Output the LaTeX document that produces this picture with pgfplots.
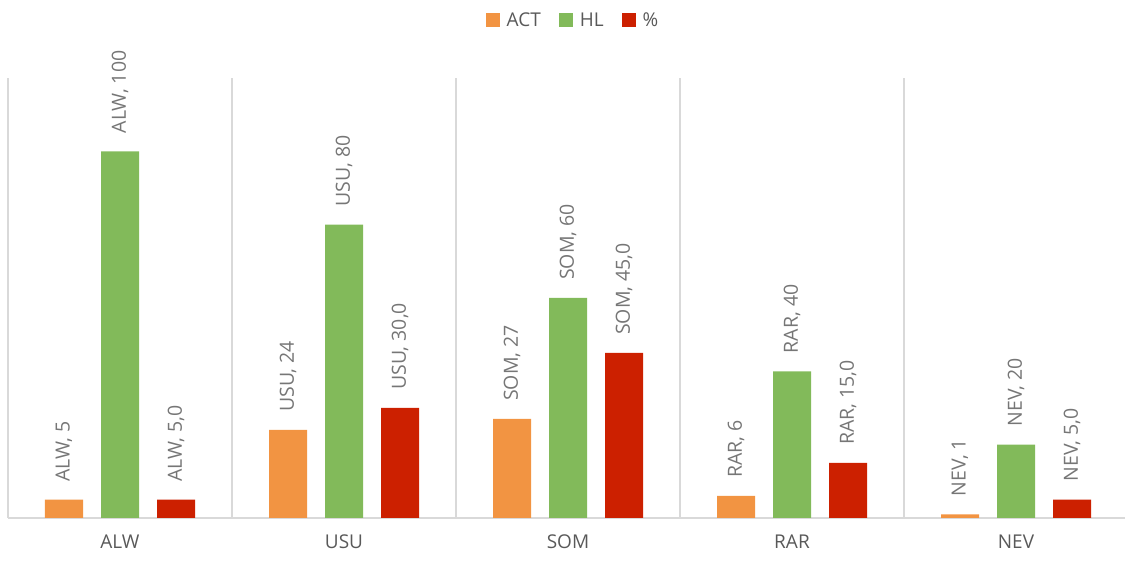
\documentclass[border=0pt]{standalone}
\usepackage{pgfplots}
\pgfplotsset{compat=1.18}
\usepackage{pgfplotstable}
\usepackage{fontspec}
\setmainfont{Open Sans}

\definecolor{actc}{RGB}{242,148,66}
\definecolor{hlc}{RGB}{130,186,90}
\definecolor{pctc}{RGB}{204,32,0}
\definecolor{gridc}{RGB}{217,217,217}
\definecolor{txtc}{RGB}{89,89,89}
\definecolor{lblc}{RGB}{118,118,118}

\pgfplotstableread{
x y lbl
0 5 {ALW, 5}
1 24 {USU, 24}
2 27 {SOM, 27}
3 6 {RAR, 6}
4 1 {NEV, 1}
}\actdata

\pgfplotstableread{
x y lbl
0 100 {ALW, 100}
1 80 {USU, 80}
2 60 {SOM, 60}
3 40 {RAR, 40}
4 20 {NEV, 20}
}\hldata

\pgfplotstableread{
x y lbl
0 5 {ALW, 5,0}
1 30 {USU, 30,0}
2 45 {SOM, 45,0}
3 15 {RAR, 15,0}
4 5 {NEV, 5,0}
}\pctdata

\begin{document}
\begin{tikzpicture}
\useasboundingbox (-8pt,-43pt) rectangle (1117pt,518pt);
\begin{axis}[
  at={(0,0)}, anchor=south west,
  scale only axis,
  width=1120pt, height=440pt,
  xmin=-0.5, xmax=4.5, ymin=0, ymax=120,
  ybar=18pt, bar width=38pt,
  clip=false,
  axis x line*=bottom, axis y line=none,
  x axis line style={draw=gridc, line width=1.3pt},
  xtick={0,1,2,3,4},
  xticklabels={ALW,USU,SOM,RAR,NEV},
  minor xtick={-0.5,0.5,1.5,2.5,3.5,4.5},
  xminorgrids=true, xmajorgrids=false,
  minor grid style={draw=gridc, line width=1.3pt},
  major tick length=0pt, minor tick length=0pt,
  xticklabel style={font=\fontsize{19}{23}\selectfont, text=txtc, yshift=-13pt},
  legend style={at={(0.5,1)}, anchor=center, xshift=5pt, yshift=58pt,
    draw=none, fill=none, legend columns=-1,
    font=\fontsize{19}{23}\selectfont, text=txtc,
    /tikz/every even column/.append style={column sep=16pt}},
  legend image code/.code={\fill[#1] (0pt,-7pt) rectangle (14pt,7pt); \path (19pt,0pt);},
  point meta=explicit symbolic,
  nodes near coords={\pgfplotspointmeta},
  every node near coord/.append style={rotate=90, anchor=west,
    font=\fontsize{19.5}{23}\selectfont, text=lblc,
    inner xsep=18pt, inner ysep=0pt},
]
\addplot[fill=actc, draw=none] table[x=x, y=y, meta=lbl] {\actdata};
\addlegendentry{ACT}
\addplot[fill=hlc, draw=none] table[x=x, y=y, meta=lbl] {\hldata};
\addlegendentry{HL}
\addplot[fill=pctc, draw=none] table[x=x, y=y, meta=lbl] {\pctdata};
\addlegendentry{\%}
\end{axis}
\end{tikzpicture}
\end{document}
